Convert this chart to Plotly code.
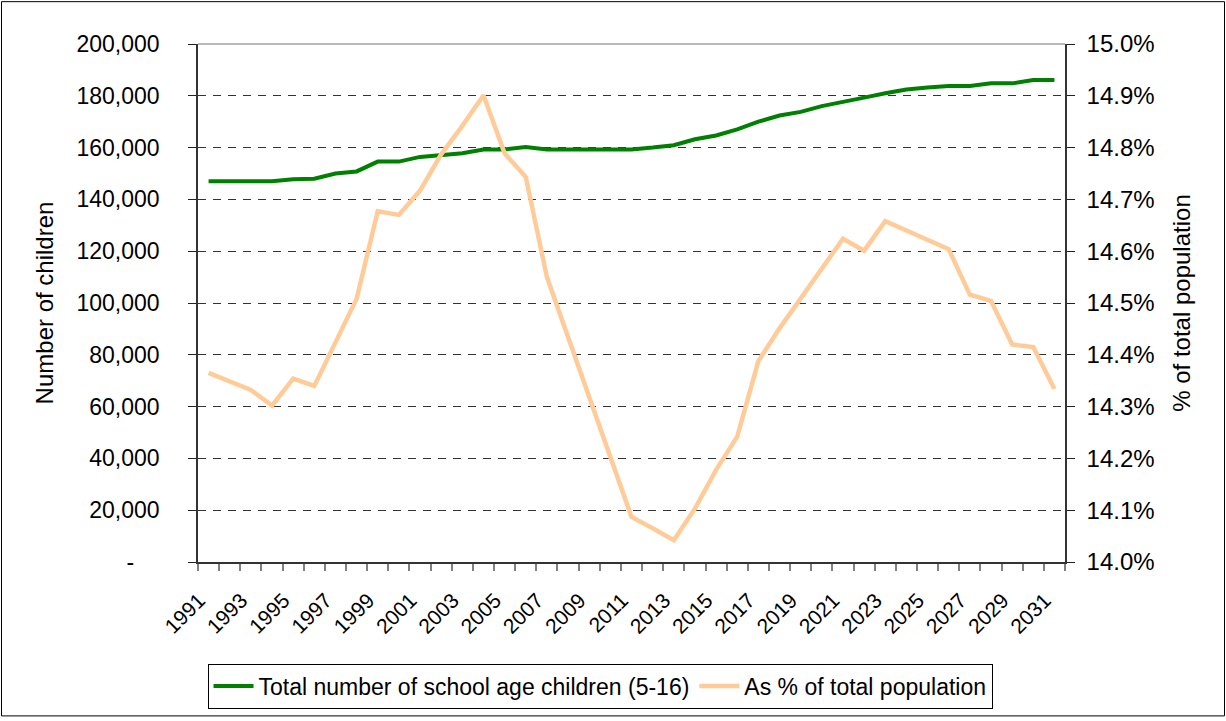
import plotly.graph_objects as go

years = list(range(1991, 2032))
children = [147000, 147000, 147000, 147000, 147800, 148000, 150000, 150800, 154600, 154600,
            156400, 157000, 157800, 159300, 159300, 160200, 159300, 159300, 159300, 159300,
            159300, 160000, 160900, 163200, 164700, 167000, 170000, 172400, 173800, 176000,
            177500, 179300, 181000, 182400, 183200, 183800, 183800, 184800, 184800, 186100,
            186100]
pct_of_population = [14.365, 14.348, 14.332, 14.302, 14.354, 14.340, 14.426, 14.508, 14.677, 14.670,
                     14.717, 14.787, 14.842, 14.901, 14.789, 14.743, 14.550, 14.435, 14.317, 14.201,
                     14.087, 14.065, 14.042, 14.103, 14.178, 14.242, 14.388, 14.451, 14.508, 14.566,
                     14.624, 14.601, 14.658, 14.640, 14.622, 14.604, 14.516, 14.504, 14.420, 14.415,
                     14.334]

left_tickvals = [0, 20000, 40000, 60000, 80000, 100000, 120000, 140000, 160000, 180000, 200000]
left_ticktext = ["-\u00a0\u00a0\u00a0\u00a0", "20,000", "40,000", "60,000", "80,000", "100,000",
                 "120,000", "140,000", "160,000", "180,000", "200,000"]
right_tickvals = [14.0, 14.1, 14.2, 14.3, 14.4, 14.5, 14.6, 14.7, 14.8, 14.9, 15.0]
right_ticktext = ["14.0%", "14.1%", "14.2%", "14.3%", "14.4%", "14.5%", "14.6%", "14.7%",
                  "14.8%", "14.9%", "15.0%"]
x_label_years = years[::2]
x_ticktext = [str(y) for y in x_label_years]

# label anchors sit slightly left of the category centre (as in the original rendering)
x_tickvals = [y - 0.45 for y in x_label_years]
boundaries = [y - 0.5 for y in years] + [years[-1] + 0.5]

W, H = 1226, 721
L, R, T, B = 198, 161, 44, 157
pw, ph = W - L - R, H - T - B

fig = go.Figure()
fig.add_trace(go.Scatter(x=years, y=children, mode="lines",
                         name="Total number of school age children (5-16)",
                         line=dict(color="#008000", width=4)))
fig.add_trace(go.Scatter(x=years, y=pct_of_population, mode="lines", yaxis="y2",
                         name="As % of total population",
                         line=dict(color="#FFCC99", width=4.5)))

def px_x(p):
    return (p - L) / pw

def px_y(p):
    return (H - B - p) / ph

fig.update_layout(
    width=W, height=H, autosize=False,
    margin=dict(l=L, r=R, t=T, b=B),
    paper_bgcolor="white", plot_bgcolor="white",
    font=dict(family="Liberation Sans, Arial, sans-serif", size=24, color="black"),
    showlegend=True,
    legend=dict(orientation="h", x=px_x(600), xanchor="center", y=px_y(666), yanchor="top",
                bordercolor="black", borderwidth=1, font=dict(size=23),
                itemwidth=40, tracegroupgap=0),
    xaxis=dict(range=[1990.5, 2031.5], tickmode="array", tickvals=x_tickvals, ticktext=x_ticktext,
               tickangle=-45, ticks="", showgrid=False, zeroline=False,
               showline=True, linecolor="#333333", linewidth=1.5,
               tickfont=dict(size=21), ticklabelstandoff=16,
               minor=dict(tickmode="array", tickvals=boundaries, ticks="outside", ticklen=7,
                          tickcolor="#808080", tickwidth=1.5, showgrid=False)),
    yaxis=dict(range=[0, 200000], tickmode="array", tickvals=left_tickvals, ticktext=left_ticktext,
               ticks="outside", ticklen=8, tickcolor="#222222", tickwidth=1,
               showline=True, linecolor="#333333", linewidth=1.5, zeroline=False,
               showgrid=True, gridcolor="#333333", griddash="8px,7px", gridwidth=1,
               ticklabelstandoff=24, tickfont=dict(size=23),
               title=dict(text="Number of children", standoff=16, font=dict(size=24))),
    yaxis2=dict(range=[14.0, 15.0], overlaying="y", side="right", tickmode="array",
                tickvals=right_tickvals, ticktext=right_ticktext,
                ticks="outside", ticklen=8, tickcolor="#222222", tickwidth=1,
                showline=True, linecolor="#333333", linewidth=1.5, zeroline=False,
                showgrid=False, ticklabelstandoff=7, tickfont=dict(size=24),
                title=dict(text="% of total population", standoff=20, font=dict(size=24))),
    shapes=[
        dict(type="line", xref="paper", yref="paper", x0=0, x1=1, y0=1, y1=1,
             line=dict(color="#A0A0A0", width=1.5), layer="above"),
        dict(type="rect", xref="paper", yref="paper",
             x0=px_x(1.5), x1=px_x(1224.5), y0=px_y(718.5), y1=px_y(1.5),
             line=dict(color="black", width=1), fillcolor="rgba(0,0,0,0)", layer="above"),
    ],
)

fig.write_html("out.html", config={"displayModeBar": False},
               post_script="document.body.style.margin='0';document.body.style.overflow='hidden';")
